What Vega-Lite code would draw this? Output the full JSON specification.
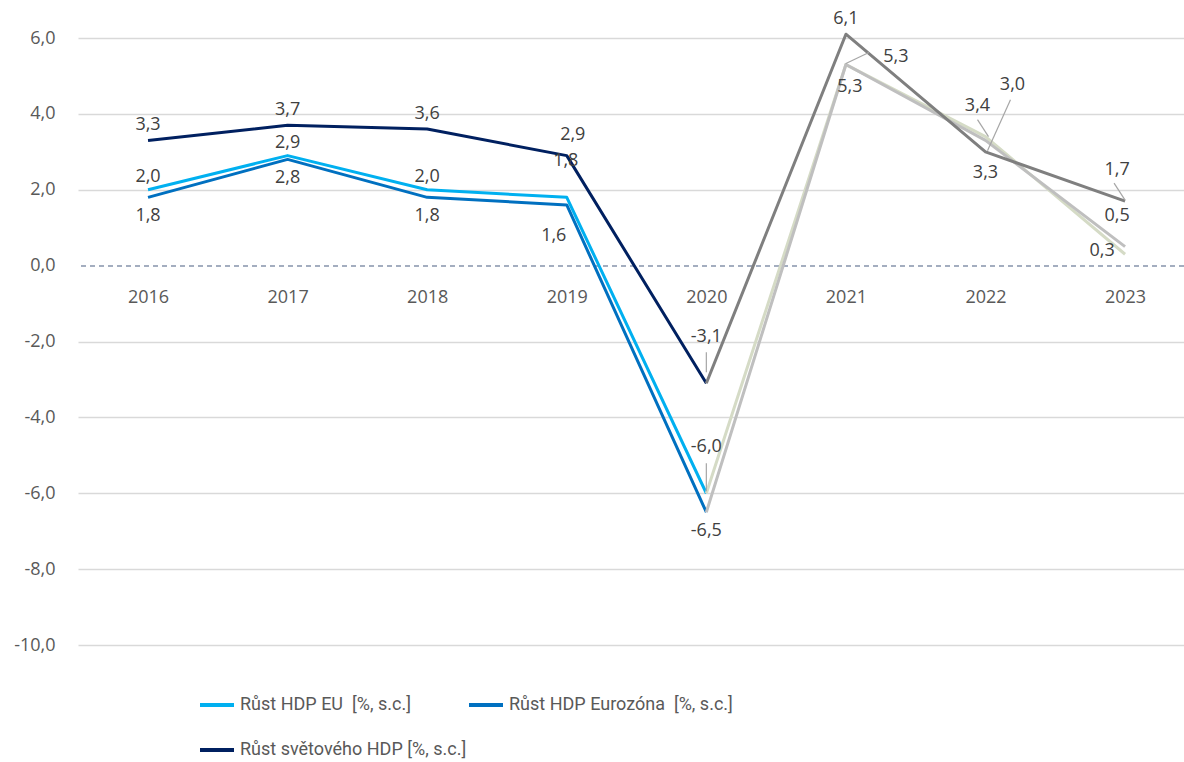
{
  "$schema": "https://vega.github.io/schema/vega-lite/v6.json",
  "width": 1106,
  "height": 607,
  "autosize": "none",
  "padding": {"left": 78, "top": 38, "right": 0, "bottom": 117},
  "background": "white",
  "config": {
    "locale": {"number": {"decimal": ",", "thousands": " ", "grouping": [3], "currency": ["", ""], "minus": "-"}},
    "view": {"stroke": null},
    "font": "Open Sans"
  },
  "data": {
    "values": [
      {"series": "Růst HDP EU\u00a0\u00a0[%, s.c.]", "year": "2016", "value": 2.0},
      {"series": "Růst HDP EU\u00a0\u00a0[%, s.c.]", "year": "2017", "value": 2.9},
      {"series": "Růst HDP EU\u00a0\u00a0[%, s.c.]", "year": "2018", "value": 2.0},
      {"series": "Růst HDP EU\u00a0\u00a0[%, s.c.]", "year": "2019", "value": 1.8},
      {"series": "Růst HDP EU\u00a0\u00a0[%, s.c.]", "year": "2020", "value": -6.0},
      {"series": "Růst HDP EU\u00a0\u00a0[%, s.c.]", "year": "2021", "value": 5.3},
      {"series": "Růst HDP EU\u00a0\u00a0[%, s.c.]", "year": "2022", "value": 3.4},
      {"series": "Růst HDP EU\u00a0\u00a0[%, s.c.]", "year": "2023", "value": 0.3},
      {"series": "Růst HDP Eurozóna\u00a0\u00a0[%, s.c.]", "year": "2016", "value": 1.8},
      {"series": "Růst HDP Eurozóna\u00a0\u00a0[%, s.c.]", "year": "2017", "value": 2.8},
      {"series": "Růst HDP Eurozóna\u00a0\u00a0[%, s.c.]", "year": "2018", "value": 1.8},
      {"series": "Růst HDP Eurozóna\u00a0\u00a0[%, s.c.]", "year": "2019", "value": 1.6},
      {"series": "Růst HDP Eurozóna\u00a0\u00a0[%, s.c.]", "year": "2020", "value": -6.5},
      {"series": "Růst HDP Eurozóna\u00a0\u00a0[%, s.c.]", "year": "2021", "value": 5.3},
      {"series": "Růst HDP Eurozóna\u00a0\u00a0[%, s.c.]", "year": "2022", "value": 3.3},
      {"series": "Růst HDP Eurozóna\u00a0\u00a0[%, s.c.]", "year": "2023", "value": 0.5},
      {"series": "Růst světového HDP [%, s.c.]", "year": "2016", "value": 3.3},
      {"series": "Růst světového HDP [%, s.c.]", "year": "2017", "value": 3.7},
      {"series": "Růst světového HDP [%, s.c.]", "year": "2018", "value": 3.6},
      {"series": "Růst světového HDP [%, s.c.]", "year": "2019", "value": 2.9},
      {"series": "Růst světového HDP [%, s.c.]", "year": "2020", "value": -3.1},
      {"series": "Růst světového HDP [%, s.c.]", "year": "2021", "value": 6.1},
      {"series": "Růst světového HDP [%, s.c.]", "year": "2022", "value": 3.0},
      {"series": "Růst světového HDP [%, s.c.]", "year": "2023", "value": 1.7}
    ]
  },
  "encoding": {
    "y": {
      "field": "value", "type": "quantitative", "title": null,
      "scale": {"domain": [-10, 6], "nice": false, "zero": false},
      "axis": {
        "values": [-10, -8, -6, -4, -2, 0, 2, 4, 6], "format": ".1f",
        "domain": false, "ticks": false, "labelPadding": 23,
        "labelFontSize": 18, "labelColor": "#595959", "labelFont": "Open Sans",
        "gridColor": {"condition": {"test": "datum.value === 0", "value": "transparent"}, "value": "#D9D9D9"},
        "gridWidth": 1.3, "title": null
      }
    }
  },
  "layer": [
    {
      "mark": {"type": "rule", "stroke": "#A3ADBF", "strokeDash": [5, 4], "strokeWidth": 1.5},
      "encoding": {"y": {"datum": 0, "type": "quantitative", "title": null}}
    },
    {
      "mark": {"type": "line", "strokeWidth": 3, "strokeJoin": "round"},
      "transform": [{"filter": "toNumber(datum.year) <= 2020"}],
      "encoding": {
        "x": {"field": "year", "type": "ordinal", "title": null,
          "scale": {"type": "point", "padding": 0.462, "align": 0.543},
          "axis": {"offset": -380, "domain": false, "ticks": false, "labelPadding": 23, "labelFontSize": 18, "labelColor": "#595959", "labelAngle": 0, "grid": false, "title": null}},
        "color": {"field": "series", "type": "nominal",
          "scale": {"domain": ["Růst HDP EU\u00a0\u00a0[%, s.c.]", "Růst HDP Eurozóna\u00a0\u00a0[%, s.c.]", "Růst světového HDP [%, s.c.]"], "range": ["#00B0F0", "#0070C0", "#002060"]},
          "legend": {"orient": "none", "direction": "horizontal", "legendX": 120, "legendY": 648, "columns": 2, "title": null, "padding": 0,
            "symbolType": "stroke", "symbolStrokeWidth": 4, "symbolSize": 1156,
            "labelFontSize": 18, "labelFont": "Roboto", "labelColor": "#595959",
            "labelOffset": 4, "rowPadding": 17, "columnPadding": -8, "labelLimit": 400}}
      }
    },
    {
      "mark": {"type": "line", "strokeWidth": 3, "strokeJoin": "round"},
      "transform": [{"filter": "toNumber(datum.year) >= 2020"}],
      "encoding": {
        "x": {"field": "year", "type": "ordinal", "title": null},
        "color": {"field": "series", "type": "nominal",
          "scale": {"domain": ["Růst HDP EU\u00a0\u00a0[%, s.c.]", "Růst HDP Eurozóna\u00a0\u00a0[%, s.c.]", "Růst světového HDP [%, s.c.]"], "range": ["#D5DBC6", "#BFBFBF", "#7F7F7F"]},
          "legend": null}
      }
    },
    {
      "mark": {"type": "rule", "stroke": "#A6A6A6", "strokeWidth": 1.2, "yOffset": -11, "y2Offset": -31},
      "transform": [{"filter": {"and": [{"field": "series", "equal": "Růst světového HDP [%, s.c.]"}, {"field": "year", "equal": "2020"}]}}],
      "encoding": {"x": {"field": "year", "type": "ordinal", "title": null}, "y2": {"field": "value"}}
    },
    {
      "mark": {"type": "rule", "stroke": "#A6A6A6", "strokeWidth": 1.2, "yOffset": -2, "y2Offset": -30},
      "transform": [{"filter": {"and": [{"field": "series", "equal": "Růst HDP EU\u00a0\u00a0[%, s.c.]"}, {"field": "year", "equal": "2020"}]}}],
      "encoding": {"x": {"field": "year", "type": "ordinal", "title": null}, "y2": {"field": "value"}}
    },
    {
      "mark": {"type": "rule", "stroke": "#A6A6A6", "strokeWidth": 1.2, "xOffset": 0, "yOffset": -1, "x2Offset": 23, "y2Offset": -12},
      "transform": [{"filter": {"and": [{"field": "series", "equal": "Růst HDP Eurozóna\u00a0\u00a0[%, s.c.]"}, {"field": "year", "equal": "2021"}]}}],
      "encoding": {"x": {"field": "year", "type": "ordinal", "title": null}, "x2": {"field": "year"}, "y2": {"field": "value"}}
    },
    {
      "mark": {"type": "rule", "stroke": "#A6A6A6", "strokeWidth": 1.2, "xOffset": 2, "yOffset": -1, "x2Offset": 25, "y2Offset": -52},
      "transform": [{"filter": {"and": [{"field": "series", "equal": "Růst světového HDP [%, s.c.]"}, {"field": "year", "equal": "2022"}]}}],
      "encoding": {"x": {"field": "year", "type": "ordinal", "title": null}, "x2": {"field": "year"}, "y2": {"field": "value"}}
    },
    {
      "mark": {"type": "rule", "stroke": "#A6A6A6", "strokeWidth": 1.2, "xOffset": 3, "yOffset": 0, "x2Offset": -8, "y2Offset": -17},
      "transform": [{"filter": {"and": [{"field": "series", "equal": "Růst HDP EU\u00a0\u00a0[%, s.c.]"}, {"field": "year", "equal": "2022"}]}}],
      "encoding": {"x": {"field": "year", "type": "ordinal", "title": null}, "x2": {"field": "year"}, "y2": {"field": "value"}}
    },
    {
      "mark": {"type": "rule", "stroke": "#A6A6A6", "strokeWidth": 1.2, "xOffset": 0, "yOffset": -1, "x2Offset": -11, "y2Offset": -18},
      "transform": [{"filter": {"and": [{"field": "series", "equal": "Růst světového HDP [%, s.c.]"}, {"field": "year", "equal": "2023"}]}}],
      "encoding": {"x": {"field": "year", "type": "ordinal", "title": null}, "x2": {"field": "year"}, "y2": {"field": "value"}}
    },
    {
      "mark": {"type": "text", "dy": -15, "fontSize": 18, "color": "#404040"},
      "transform": [{"filter": {"and": [{"field": "series", "equal": "Růst světového HDP [%, s.c.]"}, {"field": "year", "oneOf": ["2016", "2017", "2018", "2021"]}]}}],
      "encoding": {"x": {"field": "year", "type": "ordinal", "title": null}, "text": {"field": "value", "type": "quantitative", "format": ".1f"}}
    },
    {
      "mark": {"type": "text", "dx": 6, "dy": -21, "fontSize": 18, "color": "#404040"},
      "transform": [{"filter": {"and": [{"field": "series", "equal": "Růst světového HDP [%, s.c.]"}, {"field": "year", "equal": "2019"}]}}],
      "encoding": {"x": {"field": "year", "type": "ordinal", "title": null}, "text": {"field": "value", "type": "quantitative", "format": ".1f"}}
    },
    {
      "mark": {"type": "text", "dy": -13, "fontSize": 18, "color": "#404040"},
      "transform": [{"filter": {"and": [{"field": "series", "equal": "Růst HDP EU\u00a0\u00a0[%, s.c.]"}, {"field": "year", "oneOf": ["2016", "2017", "2018"]}]}}],
      "encoding": {"x": {"field": "year", "type": "ordinal", "title": null}, "text": {"field": "value", "type": "quantitative", "format": ".1f"}}
    },
    {
      "mark": {"type": "text", "dy": 19, "fontSize": 18, "color": "#404040"},
      "transform": [{"filter": {"and": [{"field": "series", "equal": "Růst HDP Eurozóna\u00a0\u00a0[%, s.c.]"}, {"field": "year", "oneOf": ["2016", "2017", "2018", "2020"]}]}}],
      "encoding": {"x": {"field": "year", "type": "ordinal", "title": null}, "text": {"field": "value", "type": "quantitative", "format": ".1f"}}
    },
    {
      "mark": {"type": "text", "dx": -13, "dy": 31, "fontSize": 18, "color": "#404040"},
      "transform": [{"filter": {"and": [{"field": "series", "equal": "Růst HDP Eurozóna\u00a0\u00a0[%, s.c.]"}, {"field": "year", "equal": "2019"}]}}],
      "encoding": {"x": {"field": "year", "type": "ordinal", "title": null}, "text": {"field": "value", "type": "quantitative", "format": ".1f"}}
    },
    {
      "mark": {"type": "text", "dy": 33, "fontSize": 18, "color": "#404040"},
      "transform": [{"filter": {"and": [{"field": "series", "equal": "Růst HDP Eurozóna\u00a0\u00a0[%, s.c.]"}, {"field": "year", "equal": "2022"}]}}],
      "encoding": {"x": {"field": "year", "type": "ordinal", "title": null}, "text": {"field": "value", "type": "quantitative", "format": ".1f"}}
    },
    {
      "mark": {"type": "text", "dy": -46, "fontSize": 18, "color": "#404040"},
      "transform": [{"filter": {"and": [{"field": "series", "oneOf": ["Růst světového HDP [%, s.c.]", "Růst HDP EU\u00a0\u00a0[%, s.c.]"]}, {"field": "year", "equal": "2020"}]}}],
      "encoding": {"x": {"field": "year", "type": "ordinal", "title": null}, "text": {"field": "value", "type": "quantitative", "format": ".1f"}}
    },
    {
      "mark": {"type": "text", "dx": -1, "dy": -36, "fontSize": 18, "color": "#404040"},
      "transform": [{"filter": {"and": [{"field": "series", "equal": "Růst HDP EU\u00a0\u00a0[%, s.c.]"}, {"field": "year", "equal": "2019"}]}}],
      "encoding": {"x": {"field": "year", "type": "ordinal", "title": null}, "text": {"field": "value", "type": "quantitative", "format": ".1f"}}
    },
    {
      "mark": {"type": "text", "dx": 4, "dy": 22, "fontSize": 18, "color": "#404040"},
      "transform": [{"filter": {"and": [{"field": "series", "equal": "Růst HDP EU\u00a0\u00a0[%, s.c.]"}, {"field": "year", "equal": "2021"}]}}],
      "encoding": {"x": {"field": "year", "type": "ordinal", "title": null}, "text": {"field": "value", "type": "quantitative", "format": ".1f"}}
    },
    {
      "mark": {"type": "text", "dx": 50, "dy": -8, "fontSize": 18, "color": "#404040"},
      "transform": [{"filter": {"and": [{"field": "series", "equal": "Růst HDP Eurozóna\u00a0\u00a0[%, s.c.]"}, {"field": "year", "equal": "2021"}]}}],
      "encoding": {"x": {"field": "year", "type": "ordinal", "title": null}, "text": {"field": "value", "type": "quantitative", "format": ".1f"}}
    },
    {
      "mark": {"type": "text", "dx": 27, "dy": -67, "fontSize": 18, "color": "#404040"},
      "transform": [{"filter": {"and": [{"field": "series", "equal": "Růst světového HDP [%, s.c.]"}, {"field": "year", "equal": "2022"}]}}],
      "encoding": {"x": {"field": "year", "type": "ordinal", "title": null}, "text": {"field": "value", "type": "quantitative", "format": ".1f"}}
    },
    {
      "mark": {"type": "text", "dx": -8, "dy": -31, "fontSize": 18, "color": "#404040"},
      "transform": [{"filter": {"or": [{"and": [{"field": "series", "equal": "Růst HDP EU\u00a0\u00a0[%, s.c.]"}, {"field": "year", "equal": "2022"}]}, {"and": [{"field": "series", "oneOf": ["Růst světového HDP [%, s.c.]", "Růst HDP Eurozóna\u00a0\u00a0[%, s.c.]"]}, {"field": "year", "equal": "2023"}]}]}}],
      "encoding": {"x": {"field": "year", "type": "ordinal", "title": null}, "text": {"field": "value", "type": "quantitative", "format": ".1f"}}
    },
    {
      "mark": {"type": "text", "dx": -23, "dy": -3, "fontSize": 18, "color": "#404040"},
      "transform": [{"filter": {"and": [{"field": "series", "equal": "Růst HDP EU\u00a0\u00a0[%, s.c.]"}, {"field": "year", "equal": "2023"}]}}],
      "encoding": {"x": {"field": "year", "type": "ordinal", "title": null}, "text": {"field": "value", "type": "quantitative", "format": ".1f"}}
    }
  ],
  "resolve": {"scale": {"color": "independent"}}
}
